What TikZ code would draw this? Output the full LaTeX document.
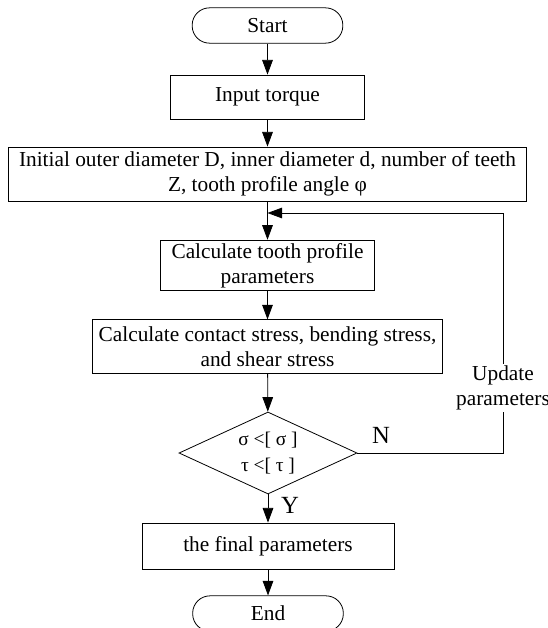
\documentclass[tikz,border=0pt]{standalone}
\usepackage{fontspec}
\setmainfont{Liberation Serif}
\usetikzlibrary{arrows.meta,positioning,shapes.geometric}

\begin{document}
\begin{tikzpicture}[
  x=0.75pt, y=-0.75pt,
  procbox/.style={draw, line width=0.6pt, align=center,
               font=\fontsize{16}{19}\selectfont, inner sep=2pt},
  termbox/.style={procbox, rounded corners=13pt, minimum width=113pt,
               minimum height=26.5pt},
  decide/.style={draw, diamond, aspect=2.2, line width=0.6pt, align=center,
               inner sep=0pt, minimum width=133.5pt, minimum height=61.5pt,
               font=\fontsize{14.5}{20}\selectfont},
  arr/.style={-{Triangle[length=11pt,width=8pt]}, line width=0.6pt},
  lbl/.style={font=\fontsize{18.5}{20}\selectfont, inner sep=0pt}
]
\useasboundingbox (0,0) rectangle (548,628);
\node[termbox] (start) at (267.5,25.5) {Start};
\node[procbox, minimum width=145pt, minimum height=33pt] (torque) at (267.5,97) {Input torque};
\node[procbox, minimum width=388pt, minimum height=40.5pt] (init) at (267.5,174)
  {Initial outer diameter D, inner diameter d, number of teeth\\Z, tooth profile angle φ};
\node[procbox, minimum width=160pt, minimum height=38pt] (tooth) at (267.5,265.5)
  {Calculate tooth profile\\parameters};
\node[procbox, minimum width=263pt, minimum height=40pt] (stress) at (267.5,346.5)
  {Calculate contact stress, bending stress,\\and shear stress};
\node[decide] (check) at (268,453) {σ <[ σ ]\\τ <[ τ ]};
\node[procbox, minimum width=189pt, minimum height=34.5pt] (final) at (268,546) {the final parameters};
\node[termbox] (end) at (268,613.5) {End};

\node[procbox, draw=none, inner sep=1pt] (update) at (503,388) {Update\\parameters};
\node[lbl] (no) at (381,435) {N};
\node[lbl] (yes) at (290,505) {Y};
\coordinate (loop) at (267.5,213);

\draw[arr] (start) -- (torque);
\draw[arr] (torque) -- (init);
\draw[arr] (init) -- (tooth);
\draw[arr] (tooth) -- (stress);
\draw[arr] (stress) -- (check);
\draw[arr] (check) -- (final);
\draw[arr] (final) -- (end);
\draw[line width=0.6pt] (check.east) -| (update.south);
\draw[arr] (update.north) |- (loop);
\end{tikzpicture}
\end{document}
